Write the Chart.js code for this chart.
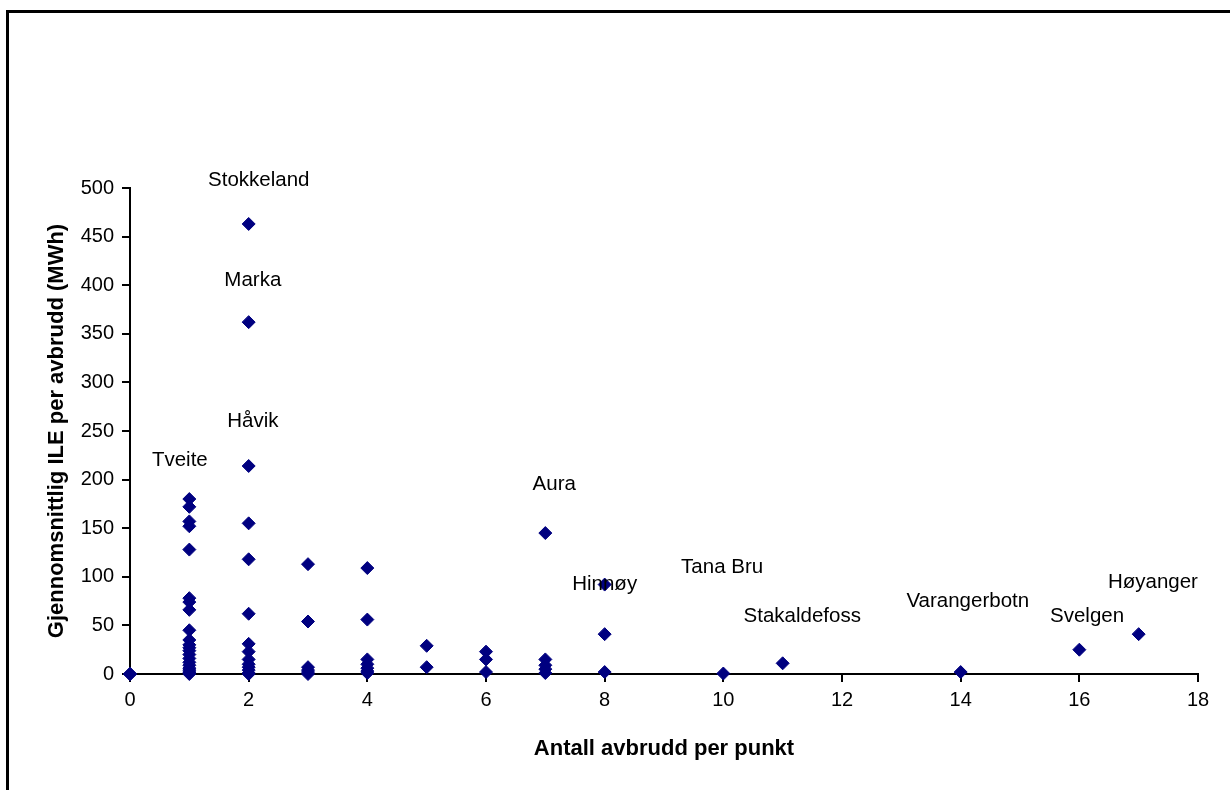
<!DOCTYPE html>
<html>
<head>
<meta charset="utf-8">
<script src="https://cdn.jsdelivr.net/npm/chart.js@4/dist/chart.umd.min.js"></script>
<style>
  html, body { margin: 0; padding: 0; background: #fff; overflow: hidden; }
  #wrap { position: relative; width: 1230px; height: 790px; }
  #frame { position: absolute; left: 6px; top: 10px; width: 1400px; height: 1000px; border: 3px solid #000; pointer-events: none; }
</style>
</head>
<body>
<div id="wrap">
  <canvas id="chart" width="1230" height="790"></canvas>
  <div id="frame"></div>
</div>
<script>
// Number of interruptions per point (x) and average ILE per interruption in MWh (y)
const antallAvbrudd = [0, 1, 2, 3, 4, 5, 6, 7, 8, 10, 11, 14, 16, 17];
const ileVed0  = [0, 0, 0];
const ileVed1  = [180, 172, 157, 152, 128, 78, 74, 66, 45, 35, 30, 27, 24, 20, 16, 12, 9, 6, 4, 2, 1, 0];
const ileVed2  = [463, 362, 214, 155, 118, 62, 31, 23, 15, 10, 7, 4, 1, 0];
const ileVed3  = [113, 54, 7, 4, 2, 0];
const ileVed4  = [109, 56, 15, 10, 6, 3, 1];
const ileVed5  = [29, 7];
const ileVed6  = [23, 15, 2];
const ileVed7  = [145, 15, 9, 5, 1];
const ileVed8  = [92, 41, 2];
const ileVed10 = [0.5];
const ileVed11 = [11];
const ileVed14 = [2];
const ileVed16 = [25];
const ileVed17 = [41];
const ileVerdier = [ileVed0, ileVed1, ileVed2, ileVed3, ileVed4, ileVed5, ileVed6,
                    ileVed7, ileVed8, ileVed10, ileVed11, ileVed14, ileVed16, ileVed17];

// Named stations, with where their names sit in data units
const stedNavn = ['Stokkeland', 'Marka', 'Håvik', 'Tveite', 'Aura', 'Hinnøy', 'Tana Bru',
                  'Stakaldefoss', 'Varangerbotn', 'Svelgen', 'Høyanger'];
const stedX = [2.17, 2.07, 2.07, 0.84, 7.15, 8.0, 9.98, 11.33, 14.12, 16.13, 17.24];
const stedY = [508, 405, 260, 220, 195, 92, 110, 59, 75, 59, 94];

const xTicks = [0, 2, 4, 6, 8, 10, 12, 14, 16, 18];
const yTicks = [0, 50, 100, 150, 200, 250, 300, 350, 400, 450, 500];

const points = [];
antallAvbrudd.forEach((a, i) => ileVerdier[i].forEach(v => points.push({ x: a, y: v })));

const FONT = '"Liberation Sans", Arial, sans-serif';

const stedLabels = {
  id: 'stedLabels',
  afterDatasetsDraw(chart) {
    const { ctx, scales: { x, y } } = chart;
    ctx.save();
    ctx.font = '20.5px ' + FONT;
    ctx.fillStyle = '#000';
    ctx.textAlign = 'center';
    ctx.textBaseline = 'middle';
    stedNavn.forEach((n, i) => ctx.fillText(n, x.getPixelForValue(stedX[i]), y.getPixelForValue(stedY[i])));
    ctx.restore();
  }
};

new Chart(document.getElementById('chart'), {
  type: 'scatter',
  data: {
    datasets: [{
      data: points,
      pointStyle: 'rectRot',
      pointRadius: 6.5,
      pointHoverRadius: 6.5,
      backgroundColor: '#000080',
      borderColor: '#000080',
      borderWidth: 1,
      clip: false
    }]
  },
  options: {
    responsive: false,
    animation: false,
    events: [],
    layout: { padding: { left: 0, top: 188, right: 32, bottom: 0 } },
    plugins: { legend: { display: false }, tooltip: { enabled: false } },
    scales: {
      x: {
        type: 'linear',
        min: 0, max: 18,
        afterFit(s) { s.height = 116; },
        afterBuildTicks(s) { s.ticks = xTicks.map(v => ({ value: v })); },
        border: { color: '#000', width: 2 },
        grid: { drawOnChartArea: false, drawTicks: true, tickLength: 8, color: '#000', lineWidth: 2 },
        ticks: { color: '#000', padding: 6, font: { family: FONT, size: 20 } },
        title: { display: true, text: 'Antall avbrudd per punkt', color: '#000',
                 font: { family: FONT, size: 22, weight: 'bold' }, padding: { top: 0, bottom: 28 } }
      },
      y: {
        type: 'linear',
        min: 0, max: 500,
        afterFit(s) { s.width = 130; },
        afterBuildTicks(s) { s.ticks = yTicks.map(v => ({ value: v })); },
        border: { color: '#000', width: 2 },
        grid: { drawOnChartArea: false, drawTicks: true, tickLength: 8, color: '#000', lineWidth: 2 },
        ticks: { color: '#000', padding: 8, font: { family: FONT, size: 20 } },
        title: { display: true, text: 'Gjennomsnittlig ILE per avbrudd (MWh)', color: '#000',
                 font: { family: FONT, size: 22, weight: 'bold' }, padding: { top: 44, bottom: 0 } }
      }
    }
  },
  plugins: [stedLabels]
});
</script>
</body>
</html>
